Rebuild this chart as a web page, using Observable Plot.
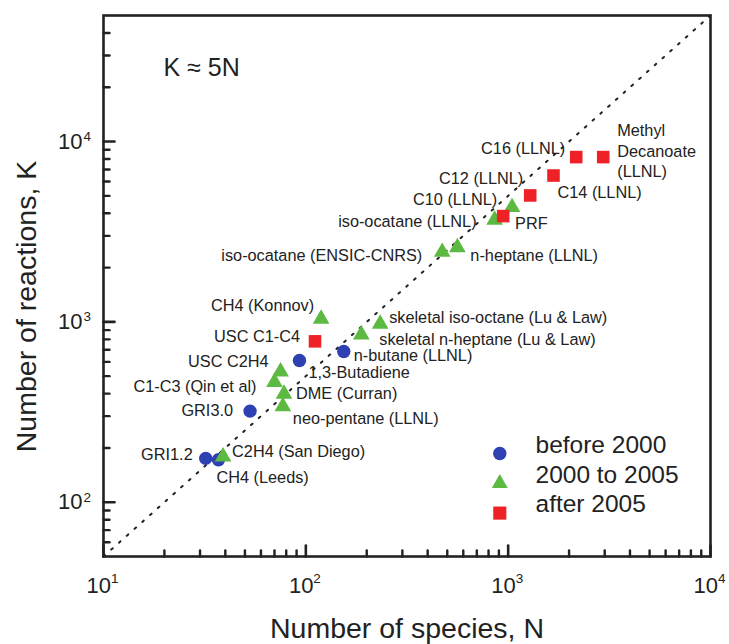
<!DOCTYPE html>
<html><head><meta charset="utf-8">
<script src="https://cdn.jsdelivr.net/npm/d3@7"></script>
<script src="https://cdn.jsdelivr.net/npm/@observablehq/plot@0.6"></script>
<style>
body{margin:0;background:#fff}
#chart{width:729px;height:644px}
</style>
</head><body><div id="chart"></div>
<script>
// ---- legend groups ----
const groups = ["before 2000", "2000 to 2005", "after 2005"];
const groupSymbols = ["circle", "triangle", "square"];
const groupColors = ["#2e40b2", "#5cba42", "#ee2226"];

// ---- data (species N, reactions K) ----
const beforeNames = ["GRI1.2", "CH4 (Leeds)", "GRI3.0", "1,3-Butadiene", "n-butane (LLNL)"];
const beforeN = [32, 37, 53, 93, 154];
const beforeK = [175, 172, 320, 611, 685];

const midNames = ["C2H4 (San Diego)", "C1-C3 (Qin et al)", "USC C2H4", "DME (Curran)", "neo-pentane (LLNL)",
  "CH4 (Konnov)", "skeletal n-heptane (Lu & Law)", "skeletal iso-octane (Lu & Law)",
  "iso-ocatane (ENSIC-CNRS)", "n-heptane (LLNL)", "iso-ocatane (LLNL)", "PRF"];
const midN = [39, 70, 75, 78, 77, 119, 188, 233, 472, 561, 857, 1045];
const midK = [179, 463, 530, 399, 340, 1040, 850, 975, 2440, 2590, 3680, 4320];

const afterNames = ["USC C1-C4", "C10 (LLNL)", "C12 (LLNL)", "C14 (LLNL)", "C16 (LLNL)", "Methyl\nDecanoate\n(LLNL)"];
const afterN = [111, 945, 1285, 1675, 2170, 2950];
const afterK = [780, 3860, 5025, 6480, 8200, 8200];

// reference line K = 5N
const refN = [10, 10000];
const refK = [50, 50000];

// axis ticks
const majorX = [10, 100, 1000, 10000];
const majorY = [100, 1000, 10000];
const minorX = [10, 100, 1000].flatMap(p => [2,3,4,5,6,7,8,9].map(m => m * p));
const minorY = [60, 70, 80, 90].concat([100, 1000, 10000].flatMap(p => [2,3,4,5,6,7,8,9].map(m => m * p)).filter(v => v < 50000));

// ---- annotation placement: [textAnchor, dx, dy] ----
const labelLayout = {
  "GRI1.2": ["end", -13, -5],
  "CH4 (Leeds)": ["start", -2, 17],
  "C2H4 (San Diego)": ["start", 9, -6],
  "GRI3.0": ["end", -17, -2],
  "neo-pentane (LLNL)": ["start", 10, 11],
  "DME (Curran)": ["start", 12, -1],
  "C1-C3 (Qin et al)": ["end", -18, 3],
  "USC C2H4": ["end", -12, -11],
  "1,3-Butadiene": ["start", 9, 11],
  "n-butane (LLNL)": ["start", 10, 3],
  "USC C1-C4": ["end", -15, -6],
  "CH4 (Konnov)": ["end", -7, -14],
  "skeletal n-heptane (Lu & Law)": ["start", 18, 4],
  "skeletal iso-octane (Lu & Law)": ["start", 9, -7],
  "iso-ocatane (ENSIC-CNRS)": ["end", -20, 2],
  "n-heptane (LLNL)": ["start", 13, 7],
  "iso-ocatane (LLNL)": ["end", -18, 1],
  "PRF": ["start", 3, 15],
  "C10 (LLNL)": ["end", -6, -18],
  "C12 (LLNL)": ["end", -7, -18],
  "C14 (LLNL)": ["start", 4, 16],
  "C16 (LLNL)": ["end", -11, -10],
  "Methyl\nDecanoate\n(LLNL)": ["start", 14, -7]
};

const sets = [[beforeNames, beforeN, beforeK], [midNames, midN, midK], [afterNames, afterN, afterK]];
const rows = sets.flatMap(([names, Ns, Ks], g) => names.map((name, i) => ({name, N: Ns[i], K: Ks[i], g})));
const refRows = refN.map((n, i) => ({N: n, K: refK[i]}));

const ink = "#222";
const tickShape = {draw(ctx, l) { ctx.moveTo(0, 0); ctx.lineTo(0, -l); }};
const symSize = [6.7, 6.2, 7.1];
const legSize = [6.7, 5.9, 7.4];
const expOf = d => String(Math.round(Math.log10(d)));

const marks = [
  Plot.line(refRows, {x: "N", y: "K", stroke: ink, strokeWidth: 2, strokeDasharray: "2,8.4"}),
  // ticks (inward)
  Plot.vector(minorX, {x: d => d, frameAnchor: "bottom", length: 6, rotate: 0, anchor: "start", shape: tickShape, stroke: ink, strokeWidth: 2.4}),
  Plot.vector(majorX, {x: d => d, frameAnchor: "bottom", length: 11, rotate: 0, anchor: "start", shape: tickShape, stroke: ink, strokeWidth: 2.6}),
  Plot.vector(minorY, {y: d => d, frameAnchor: "left", length: 6, rotate: 90, anchor: "start", shape: tickShape, stroke: ink, strokeWidth: 2.4}),
  Plot.vector(majorY, {y: d => d, frameAnchor: "left", length: 11, rotate: 90, anchor: "start", shape: tickShape, stroke: ink, strokeWidth: 2.6}),
  // tick labels 10^n
  Plot.axisX({ticks: majorX, tickSize: 0, tickPadding: 21, tickFormat: () => "10", dx: -4.7, fontSize: 22, label: null, fill: ink}),
  Plot.axisX({ticks: majorX, tickSize: 0, tickPadding: 17, tickFormat: expOf, textAnchor: "start", dx: 7.5, fontSize: 13.5, label: null, fill: ink}),
  Plot.axisY({ticks: majorY, tickSize: 0, tickPadding: 21, tickFormat: () => "10", fontSize: 22, label: null, fill: ink}),
  Plot.axisY({ticks: majorY, tickSize: 0, tickPadding: 20, tickFormat: expOf, textAnchor: "start", dy: -5, fontSize: 13.5, label: null, fill: ink}),
  // axis titles
  Plot.text(["Number of species, N"], {text: d => d, frameAnchor: "bottom", textAnchor: "middle", lineAnchor: "bottom", dy: 81, fontSize: 28.5, fill: ink}),
  Plot.text(["Number of reactions, K"], {text: d => d, frameAnchor: "left", textAnchor: "middle", lineAnchor: "bottom", rotate: -90, dx: -68, dy: 20.5, fontSize: 28.5, fill: ink}),
  Plot.text(["K ≈ 5N"], {text: d => d, frameAnchor: "top-left", lineAnchor: "bottom", textAnchor: "start", dx: 60, dy: 60, fontSize: 25, fill: ink}),
  // data points
  ...groups.map((gname, g) => Plot.dot(rows.filter(r => r.g === g), {x: "N", y: "K", symbol: () => groupSymbols[g], fill: groupColors[g], r: symSize[g], stroke: "none"})),
  // labels
  ...rows.map(r => {
    const [anchor, dx, dy] = labelLayout[r.name];
    return Plot.text([r], {x: "N", y: "K", text: "name", textAnchor: anchor, dx, dy, fontSize: 16.3, lineHeight: 1.27, fill: ink});
  }),
  // legend
  ...groups.flatMap((gname, g) => [
    Plot.dot([gname], {frameAnchor: "bottom-right", dx: -210.7, dy: -103 + g * 29.8, symbol: () => groupSymbols[g], fill: groupColors[g], r: legSize[g], stroke: "none"}),
    Plot.text([gname], {text: d => d, frameAnchor: "bottom-right", textAnchor: "start", dx: -175, dy: -103.5 + g * 29.7, fontSize: 24.5, fill: ink})
  ]),
  Plot.frame({stroke: ink, strokeWidth: 2.6})
];

const chart = Plot.plot({
  width: 729, height: 644,
  marginLeft: 103, marginRight: 19, marginTop: 15, marginBottom: 88,
  x: {type: "log", domain: [10, 10000], label: null},
  y: {type: "log", domain: [50, 50000], label: null},
  symbol: {type: "identity"},
  style: {fontFamily: "'Liberation Sans', Arial, sans-serif", color: ink, background: "#fff", overflow: "visible"},
  marks
});
document.getElementById("chart").append(chart);
</script>
</body></html>
